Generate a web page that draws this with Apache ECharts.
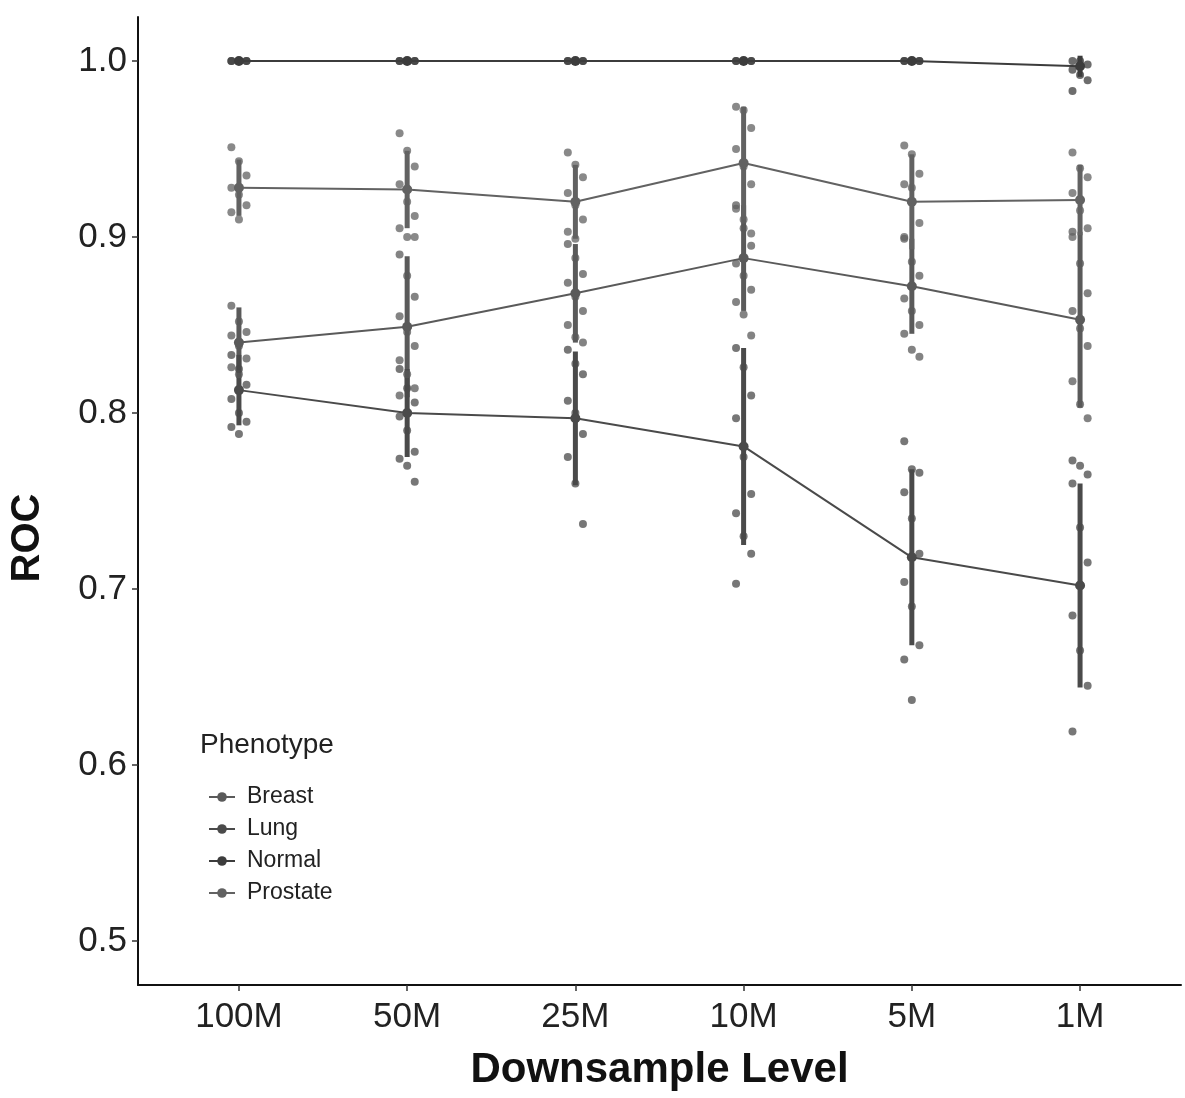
<!DOCTYPE html>
<html>
<head>
<meta charset="utf-8">
<script src="https://cdn.jsdelivr.net/npm/echarts@6/dist/echarts.min.js"></script>
<style>
html,body{margin:0;padding:0;background:#fff;}
#chart{width:1185px;height:1098px;}
</style>
</head>
<body>
<div id="chart"></div>
<script>
// ---------- data ----------
const categories = ['100M', '50M', '25M', '10M', '5M', '1M'];
const phenotypes = ['Breast', 'Lung', 'Normal', 'Prostate'];
const yTicks = [0.5, 0.6, 0.7, 0.8, 0.9, 1.0];

// mean ROC per downsample level
const breastMean   = [0.840, 0.849, 0.868, 0.888, 0.872, 0.853];
const lungMean     = [0.813, 0.800, 0.797, 0.781, 0.718, 0.702];
const normalMean   = [1.000, 1.000, 1.000, 1.000, 1.000, 0.997];
const prostateMean = [0.928, 0.927, 0.920, 0.942, 0.920, 0.921];

// half-length of the error bars
const breastSd   = [0.020, 0.040, 0.028, 0.030, 0.027, 0.050];
const lungSd     = [0.020, 0.025, 0.038, 0.056, 0.050, 0.058];
const normalSd   = [0.001, 0.001, 0.001, 0.001, 0.001, 0.006];
const prostateSd = [0.016, 0.022, 0.021, 0.032, 0.027, 0.020];

// individual (jittered) runs
const breastPts = [
  [0.861, 0.852, 0.846, 0.844, 0.838, 0.831, 0.826, 0.822],
  [0.890, 0.878, 0.866, 0.855, 0.846, 0.838, 0.830, 0.822, 0.814, 0.810],
  [0.896, 0.888, 0.879, 0.874, 0.866, 0.858, 0.850, 0.843, 0.840],
  [0.918, 0.905, 0.895, 0.885, 0.878, 0.870, 0.863, 0.856, 0.844],
  [0.899, 0.886, 0.878, 0.865, 0.858, 0.850, 0.845, 0.836, 0.832],
  [0.903, 0.885, 0.868, 0.858, 0.848, 0.838, 0.818, 0.805, 0.797]
];
const lungPts = [
  [0.833, 0.825, 0.816, 0.808, 0.800, 0.795, 0.792, 0.788],
  [0.825, 0.814, 0.806, 0.798, 0.790, 0.778, 0.774, 0.770, 0.761],
  [0.836, 0.828, 0.822, 0.807, 0.800, 0.788, 0.775, 0.760, 0.737],
  [0.837, 0.826, 0.810, 0.797, 0.775, 0.754, 0.743, 0.730, 0.720, 0.703],
  [0.784, 0.768, 0.766, 0.755, 0.740, 0.720, 0.704, 0.690, 0.668, 0.660, 0.637],
  [0.773, 0.770, 0.765, 0.760, 0.735, 0.715, 0.685, 0.665, 0.645, 0.619]
];
const normalPts = [
  [1.000, 1.000, 1.000, 1.000, 1.000, 1.000],
  [1.000, 1.000, 1.000, 1.000, 1.000, 1.000],
  [1.000, 1.000, 1.000, 1.000, 1.000, 1.000],
  [1.000, 1.000, 1.000, 1.000, 1.000, 1.000],
  [1.000, 1.000, 1.000, 1.000, 1.000, 1.000],
  [1.000, 1.000, 0.998, 0.995, 0.992, 0.989, 0.983]
];
const prostatePts = [
  [0.951, 0.943, 0.935, 0.928, 0.924, 0.918, 0.914, 0.910],
  [0.959, 0.949, 0.940, 0.930, 0.920, 0.912, 0.905, 0.900, 0.900],
  [0.948, 0.941, 0.934, 0.925, 0.918, 0.910, 0.903, 0.899],
  [0.974, 0.972, 0.962, 0.950, 0.940, 0.930, 0.916, 0.910, 0.902],
  [0.952, 0.947, 0.936, 0.930, 0.928, 0.908, 0.900],
  [0.948, 0.939, 0.934, 0.925, 0.915, 0.905, 0.900]
];

// ---------- build ----------
const groups = [
  {name: 'Breast',   mean: breastMean,   sd: breastSd,   pts: breastPts,   color: '#5a5a5a'},
  {name: 'Lung',     mean: lungMean,     sd: lungSd,     pts: lungPts,     color: '#4a4a4a'},
  {name: 'Normal',   mean: normalMean,   sd: normalSd,   pts: normalPts,   color: '#3c3c3c'},
  {name: 'Prostate', mean: prostateMean, sd: prostateSd, pts: prostatePts, color: '#626262'}
];

const jit = [-0.045, 0.0, 0.045];
const series = [];
groups.forEach(g => {
  // mean line + mean point (first, so the legend uses its icon)
  series.push({
    type: 'line',
    name: g.name,
    z: 4,
    symbol: 'circle',
    symbolSize: 10,
    showSymbol: true,
    lineStyle: {color: g.color, width: 2},
    itemStyle: {color: g.color},
    data: g.mean.map((m, i) => [i + 1, m])
  });
  // error bars
  series.push({
    type: 'custom',
    name: g.name,
    z: 2,
    silent: true,
    itemStyle: {color: g.color},
    data: g.mean.map((m, i) => [i + 1, m - g.sd[i], m + g.sd[i]]),
    renderItem: function (params, api) {
      const p1 = api.coord([api.value(0), api.value(1)]);
      const p2 = api.coord([api.value(0), api.value(2)]);
      return {
        type: 'line',
        shape: {x1: p1[0], y1: p1[1], x2: p2[0], y2: p2[1]},
        style: {stroke: g.color, lineWidth: 5}
      };
    }
  });
  // jittered points
  const sp = [];
  g.pts.forEach((arr, i) => arr.forEach((v, j) => sp.push([i + 1 + jit[j % 3], v])));
  series.push({
    type: 'scatter',
    name: g.name,
    z: 3,
    symbol: 'circle',
    symbolSize: 8,
    itemStyle: {color: g.color, opacity: 0.75},
    data: sp
  });
});

const chart = echarts.init(document.getElementById('chart'), null, {renderer: 'canvas'});
const FONT = 'Liberation Sans, Arial, sans-serif';
chart.setOption({
  backgroundColor: '#ffffff',
  animation: false,
  textStyle: {fontFamily: FONT},
  grid: {left: 138, right: 4, top: 17, bottom: 113, containLabel: false},
  xAxis: {
    type: 'value',
    min: 0.4,
    max: 6.6,
    name: 'Downsample Level',
    nameLocation: 'middle',
    nameGap: 64,
    nameTextStyle: {fontSize: 42, fontWeight: 'bold', color: '#111', fontFamily: FONT},
    axisLine: {show: true, lineStyle: {color: '#111', width: 2}},
    axisTick: {show: true, customValues: [1, 2, 3, 4, 5, 6], length: 6, lineStyle: {color: '#333', width: 1.5}},
    axisLabel: {
      customValues: [1, 2, 3, 4, 5, 6],
      formatter: v => categories[Math.round(v) - 1] || '',
      fontSize: 35, color: '#222', margin: 15, fontFamily: FONT
    },
    splitLine: {show: false}
  },
  yAxis: {
    type: 'value',
    min: 0.475,
    max: 1.025,
    axisLine: {show: true, lineStyle: {color: '#111', width: 2}},
    axisTick: {show: true, customValues: yTicks, length: 6, lineStyle: {color: '#333', width: 1.5}},
    axisLabel: {
      customValues: yTicks,
      formatter: v => v.toFixed(1),
      fontSize: 35, color: '#222', margin: 11, fontFamily: FONT
    },
    splitLine: {show: false}
  },
  legend: {
    data: phenotypes,
    orient: 'vertical',
    left: 203,
    top: 780,
    itemWidth: 26,
    itemHeight: 12,
    itemGap: 8,
    textStyle: {fontSize: 23, lineHeight: 24, color: '#222', fontFamily: FONT, padding: [0, 0, 0, 7]}
  },
  graphic: [{
    type: 'text',
    left: 200,
    top: 731,
    style: {text: 'Phenotype', fontSize: 28, fill: '#222', fontFamily: FONT}
  }, {
    type: 'text',
    x: 28,
    y: 538,
    rotation: Math.PI / 2,
    style: {text: 'ROC', fontSize: 40, fontWeight: 'bold', fill: '#111', fontFamily: FONT, align: 'center', verticalAlign: 'middle'}
  }],
  series: series
});
</script>
</body>
</html>
